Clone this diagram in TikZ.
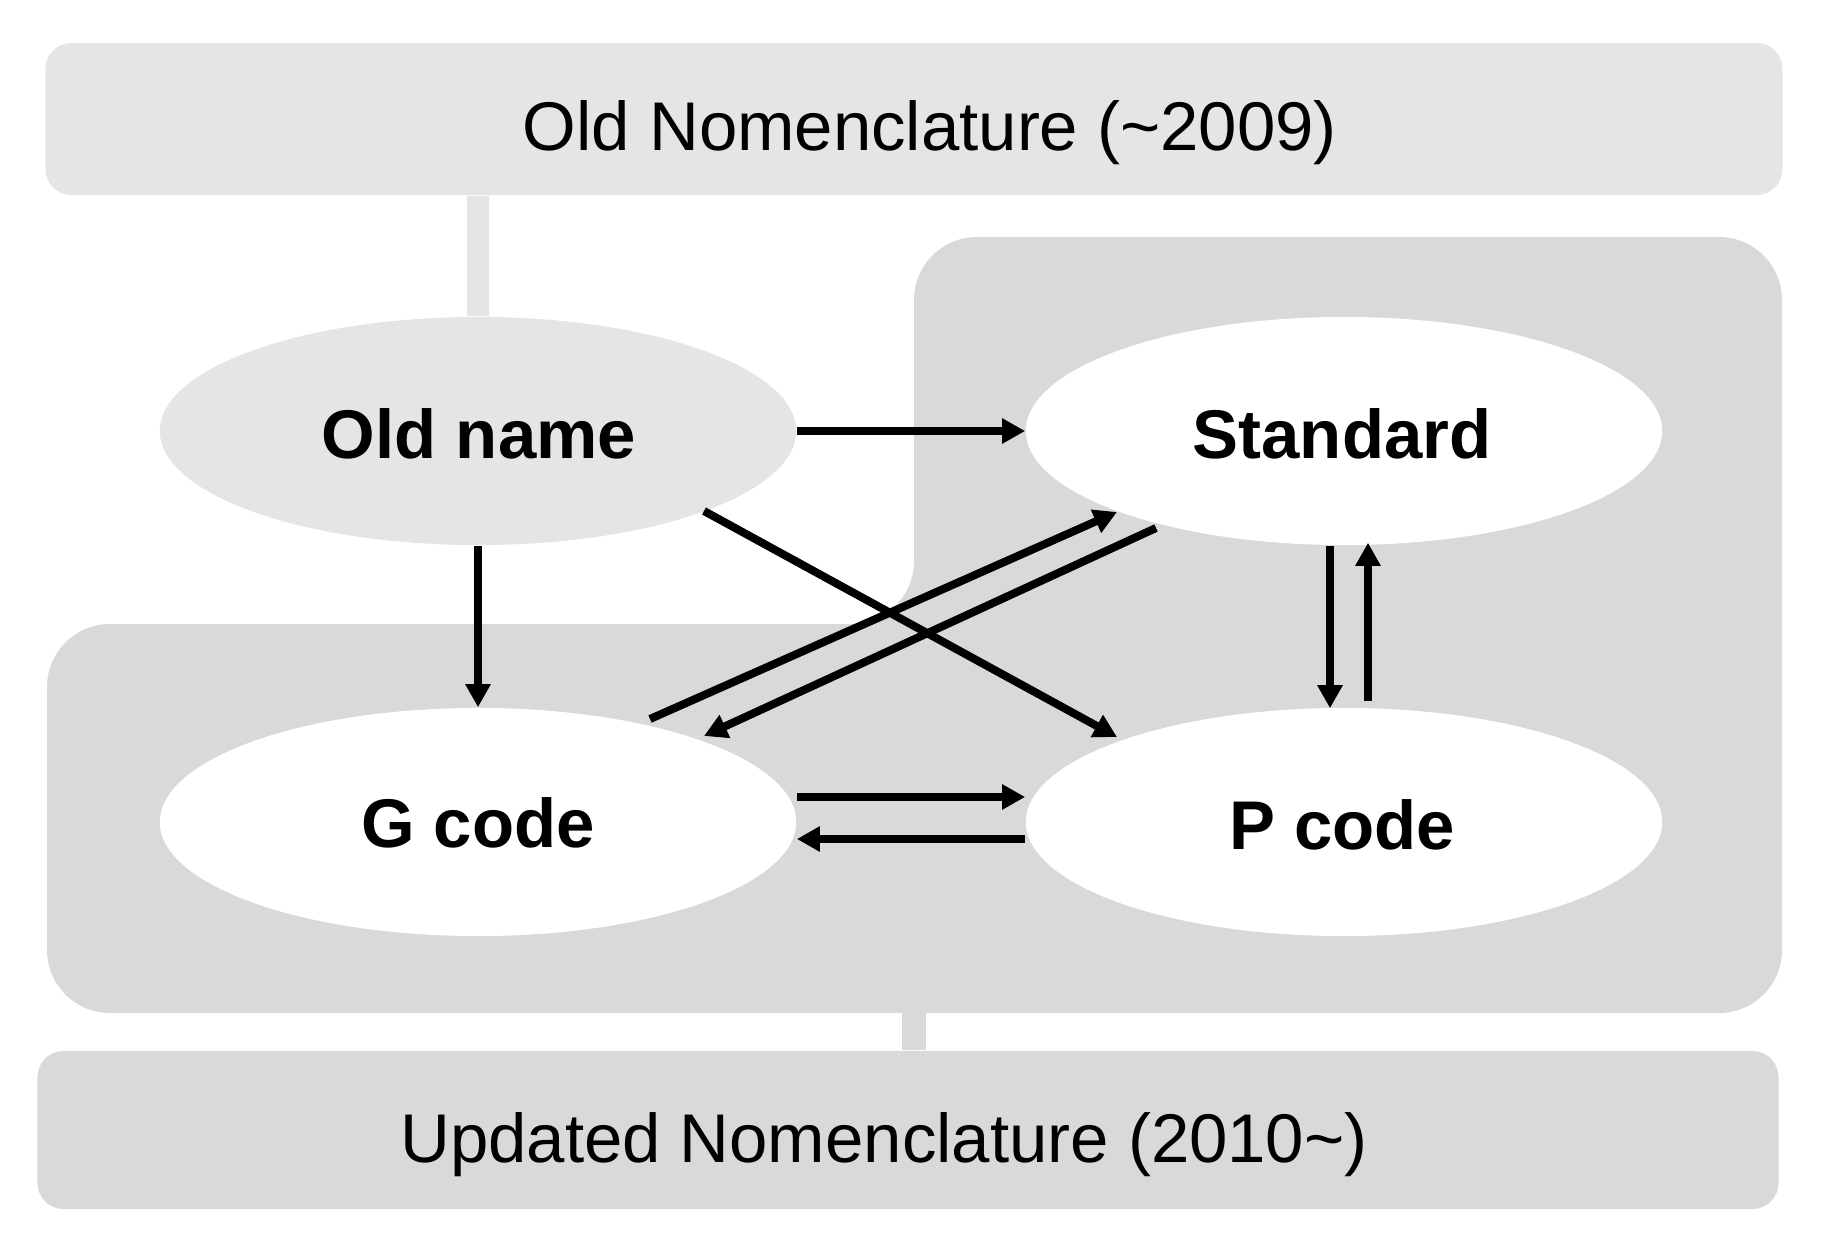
\documentclass[tikz,border=0pt]{standalone}
\usepackage{fontspec}
\setmainfont{Liberation Sans}
\usetikzlibrary{arrows.meta,shapes.geometric,calc}
\definecolor{lightgr}{HTML}{E5E5E5}
\definecolor{midgr}{HTML}{D9D9D9}
\begin{document}
\begin{tikzpicture}[x=0.01cm,y=-0.01cm,
  band/.style={draw=none,rounded corners=0.26cm,inner sep=0pt},
  oval/.style={ellipse,draw=none,fill=white,minimum width=6.36cm,minimum height=2.28cm,inner sep=0pt},
  lbl/.style={font=\fontsize{19.6}{23}\selectfont\bfseries,inner sep=0pt},
  hdr/.style={font=\fontsize{19.6}{23}\selectfont,inner sep=0pt},
  link/.style={line width=0.08cm,-{Triangle[length=0.23cm,width=0.24cm]}},
  bar/.style={line width=#1}
]
\useasboundingbox (0,0) rectangle (1826,1254);
% grey L-shaped region
\fill[midgr,rounded corners=0.63cm] (400,624) -- (914,624) -- (914,237) -- (1782,237) -- (1782,1013) -- (47,1013) -- (47,624) -- cycle;
% header / footer bands
\node[band,fill=lightgr,minimum width=17.36cm,minimum height=1.52cm] (topbox) at (914,119) {};
\node[band,fill=midgr,minimum width=17.40cm,minimum height=1.58cm] (botbox) at (908,1130) {};
\node[hdr] (toptext) at (930,133) {Old Nomenclature (\textasciitilde2009)};
\node[hdr] (bottext) at (884,1145) {Updated Nomenclature (2010\textasciitilde)};
% ellipses
\node[oval,fill=lightgr] (old) at (478,431) {};
\node[oval] (std) at (1344,431) {};
\node[oval] (gc) at (478,822) {};
\node[oval] (pc) at (1344,822) {};
\node[lbl] (oldt) at (479,434) {Old name};
\node[lbl] (stdt) at (1342,434) {Standard};
\node[lbl] (gct) at (478,823) {G code};
\node[lbl] (pct) at (1342,825) {P code};
% connecting bars
\draw[lightgr,bar=0.21cm] (topbox.south -| old.north) -- (old.north);
\coordinate (lbot) at (914,1011);
\draw[midgr,bar=0.24cm] (lbot) -- (lbot |- botbox.north);
% arrows
\draw[link] (old.east) -- (std.west);
\draw[link] (old.south) -- (gc.north);
\draw[link] ($(old.center)+(226,80)$) -- ($(pc.center)+(-227,-85)$);
\draw[link] ($(gc.center)+(172,-103)$) -- ($(std.center)+(-227,81)$);
\draw[link] ($(std.center)+(-188,97)$) -- ($(gc.center)+(226,-86)$);
\draw[link] ($(std.south)+(-14,0)$) -- ($(pc.north)+(-14,1)$);
\draw[link] ($(pc.north)+(24,-6)$) -- ($(std.south)+(24,-3)$);
\draw[link] ([yshift=0.25cm]gc.east) -- ([yshift=0.25cm]pc.west);
\draw[link] ([yshift=-0.17cm]pc.west) -- ([yshift=-0.17cm]gc.east);
\end{tikzpicture}
\end{document}
